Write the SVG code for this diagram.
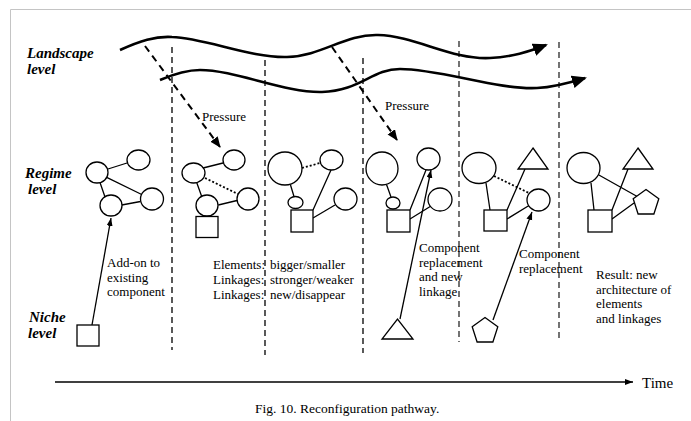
<svg xmlns="http://www.w3.org/2000/svg" width="691" height="421" viewBox="0 0 691 421">
<style>
.sh{fill:#fff;stroke:#000;stroke-width:1.3}
.ln{fill:none;stroke:#000;stroke-width:1.3}
.dot{fill:none;stroke:#000;stroke-width:1.8;stroke-dasharray:2 2}
.vd{fill:none;stroke:#000;stroke-width:1.3;stroke-dasharray:6 4}
.wave{fill:none;stroke:#000;stroke-width:2.6}
.pr{fill:none;stroke:#000;stroke-width:2;stroke-dasharray:7 5}
.lvl{font-family:"Liberation Serif",serif;font-weight:bold;font-style:italic;font-size:15px}
.t{font-family:"Liberation Serif",serif;font-size:13px}
</style>
<defs>
<marker id="ah" markerUnits="userSpaceOnUse" markerWidth="9" markerHeight="7" refX="8" refY="3" orient="auto"><path d="M0,0 L8,3 L0,6 z"/></marker>
<marker id="big" markerUnits="userSpaceOnUse" markerWidth="16" markerHeight="14" refX="13" refY="6.5" orient="auto"><path d="M0,0 L15,6.5 L0,13 z"/></marker>
<marker id="pa" markerUnits="userSpaceOnUse" markerWidth="12" markerHeight="10" refX="10" refY="4.5" orient="auto"><path d="M0,0 L11,4.5 L0,9 z"/></marker>
</defs>
<rect width="691" height="421" fill="#fff"/>
<path d="M10.5,421 V9.5 H691" fill="none" stroke="#c4c4c4" stroke-width="1"/>

<g id="level-labels">
<text class="lvl" x="27" y="58">Landscape</text>
<text class="lvl" x="27" y="74">level</text>
<text class="lvl" x="25" y="178">Regime</text>
<text class="lvl" x="28" y="194">level</text>
<text class="lvl" x="29" y="322">Niche</text>
<text class="lvl" x="28" y="338">level</text>
</g>

<g id="connectors">
<!-- time dividers -->
<path class="vd" d="M172,47 V350"/>
<path class="vd" d="M265,60 V355"/>
<path class="vd" d="M363,58 V353"/>
<path class="vd" d="M459,41 V342" style="stroke-width:1.1"/>
<path class="vd" d="M559,42 V342" style="stroke-width:1.1"/>
<!-- landscape waves -->
<path class="wave" marker-end="url(#big)" d="M120,50 C140,41 155,36 172,37 C205,38 250,58 287,57 C322,56 345,34 378,35 C415,36 452,60 490,58 C512,57 528,52 546,45"/>
<path class="wave" marker-end="url(#big)" d="M160,80 C174,74 186,70 200,70 C235,70 285,93 322,92 C360,91 372,69 400,69 C440,69 498,90 537,88 C556,87 572,82 585,78"/>
<!-- pressure arrows -->
<path class="pr" marker-end="url(#pa)" d="M145,46 L220,147"/>
<path class="pr" marker-end="url(#pa)" d="M332,47 L397,140"/>
<!-- panel 1 links -->
<path class="ln" d="M108,169 L127,163 M106.7,177.3 L141.7,194.5 M100,182.5 L105,197 M121.7,205 L140.5,201.5"/>
<path class="ln" marker-end="url(#ah)" d="M92,325 L111,218"/>
<!-- panel 2 links -->
<path class="ln" d="M203,168 L223,163 M196.7,182.5 L201.7,196.5 M218.3,205 L237,200.5"/>
<path class="dot" d="M205,178 L238,194"/>
<!-- panel 3 links -->
<path class="dot" d="M302,168 L320,163"/>
<path class="ln" d="M290.5,185 L294,196.5 M313,210 L331,170 M313,218 L335,205"/>
<!-- panel 4 links -->
<path class="ln" d="M386.5,184.5 L391,197 M410,210 L426,170 M410,219 L431,206"/>
<path class="ln" marker-end="url(#ah)" d="M400,319 L431,170"/>
<!-- panel 5 links -->
<path class="ln" d="M486,183 L490,210 M507,210 L525,169 M507,219 L529,205.5"/>
<path class="dot" d="M494,176 L529,193"/>
<path class="ln" marker-end="url(#ah)" d="M493,320 L532,212"/>
<!-- panel 6 links -->
<path class="ln" d="M591,183 L594,210 M598,174.5 L639,197.5 M612,210 L628,169 M612,219 L634,203"/>
<!-- time axis -->
<path class="ln" style="stroke-width:1.6" marker-end="url(#ah)" d="M55,382 L633,382"/>
</g>

<g id="p1-a"><ellipse class="sh" cx="97" cy="172.5" rx="11" ry="10.5"/></g>
<g id="p1-b"><ellipse class="sh" cx="138.5" cy="160" rx="11.5" ry="10"/></g>
<g id="p1-c"><ellipse class="sh" cx="111" cy="205.5" rx="11" ry="10.5"/></g>
<g id="p1-d"><ellipse class="sh" cx="152" cy="199" rx="11.5" ry="11"/></g>
<g id="p1-niche-square"><rect class="sh" x="77" y="325" width="22" height="21"/></g>

<g id="p2-a"><ellipse class="sh" cx="193.5" cy="173" rx="11.5" ry="10"/></g>
<g id="p2-b"><ellipse class="sh" cx="234" cy="160" rx="11" ry="10"/></g>
<g id="p2-c"><ellipse class="sh" cx="207" cy="205.5" rx="11" ry="10.5"/></g>
<g id="p2-d"><ellipse class="sh" cx="248" cy="199" rx="11" ry="11"/></g>
<g id="p2-square"><rect class="sh" x="196" y="216.5" width="22" height="21"/></g>

<g id="p3-e"><ellipse class="sh" cx="285" cy="168.5" rx="17" ry="16.5"/></g>
<g id="p3-f"><ellipse class="sh" cx="331.5" cy="160" rx="11.5" ry="10"/></g>
<g id="p3-g"><ellipse class="sh" cx="295.5" cy="202.5" rx="7.5" ry="6"/></g>
<g id="p3-h"><ellipse class="sh" cx="345.5" cy="199" rx="11.5" ry="11"/></g>
<g id="p3-square"><rect class="sh" x="291" y="210" width="22" height="22"/></g>

<g id="p4-e"><ellipse class="sh" cx="382" cy="168.5" rx="16" ry="16.5"/></g>
<g id="p4-f"><ellipse class="sh" cx="428.5" cy="159" rx="11.5" ry="11"/></g>
<g id="p4-g"><ellipse class="sh" cx="393" cy="203" rx="7" ry="6"/></g>
<g id="p4-h"><ellipse class="sh" cx="440" cy="199.5" rx="12" ry="11.5"/></g>
<g id="p4-square"><rect class="sh" x="387" y="210" width="23" height="22"/></g>
<g id="p4-niche-triangle"><polygon class="sh" points="382,339 413,339 397.5,319"/></g>

<g id="p5-e"><ellipse class="sh" cx="479" cy="168" rx="17" ry="15.5"/></g>
<g id="p5-triangle"><polygon class="sh" points="533,148 548,169 518,169"/></g>
<g id="p5-h"><ellipse class="sh" cx="538.5" cy="200" rx="11.5" ry="11"/></g>
<g id="p5-square"><rect class="sh" x="484" y="210" width="23" height="21"/></g>
<g id="p5-niche-pentagon"><polygon class="sh" points="485,317.5 497.8,326.8 492.9,342 477.1,342 472.2,326.8"/></g>

<g id="p6-e"><ellipse class="sh" cx="583.5" cy="168" rx="16.5" ry="15.5"/></g>
<g id="p6-triangle"><polygon class="sh" points="638,148 653,169 623,169"/></g>
<g id="p6-pentagon"><polygon class="sh" points="646,189.5 658.8,198.8 653.9,214 638.1,214 633.2,198.8"/></g>
<g id="p6-square"><rect class="sh" x="588" y="210" width="24" height="22"/></g>

<g id="labels">
<text class="t" x="202" y="121">Pressure</text>
<text class="t" x="385" y="110">Pressure</text>
<text class="t" x="107" y="267">Add-on to</text>
<text class="t" x="107" y="281.5">existing</text>
<text class="t" x="107" y="296">component</text>
<text class="t" x="213" y="269">Elements:</text>
<text class="t" x="270" y="269">bigger/smaller</text>
<text class="t" x="213" y="284">Linkages:</text>
<text class="t" x="270" y="284">stronger/weaker</text>
<text class="t" x="213" y="299">Linkages:</text>
<text class="t" x="270" y="299">new/disappear</text>
<text class="t" x="419" y="252">Component</text>
<text class="t" x="419" y="266.5">replacement</text>
<text class="t" x="419" y="281">and new</text>
<text class="t" x="419" y="295.5">linkage</text>
<text class="t" x="519" y="258">Component</text>
<text class="t" x="519" y="273">replacement</text>
<text class="t" x="596" y="279">Result: new</text>
<text class="t" x="596" y="293.7">architecture of</text>
<text class="t" x="596" y="308.4">elements</text>
<text class="t" x="596" y="323">and linkages</text>
<text class="t" x="642" y="388" style="font-size:15px">Time</text>
<text class="t" x="255" y="413" style="font-size:13.5px">Fig. 10.  Reconfiguration pathway.</text>
</g>
</svg>
